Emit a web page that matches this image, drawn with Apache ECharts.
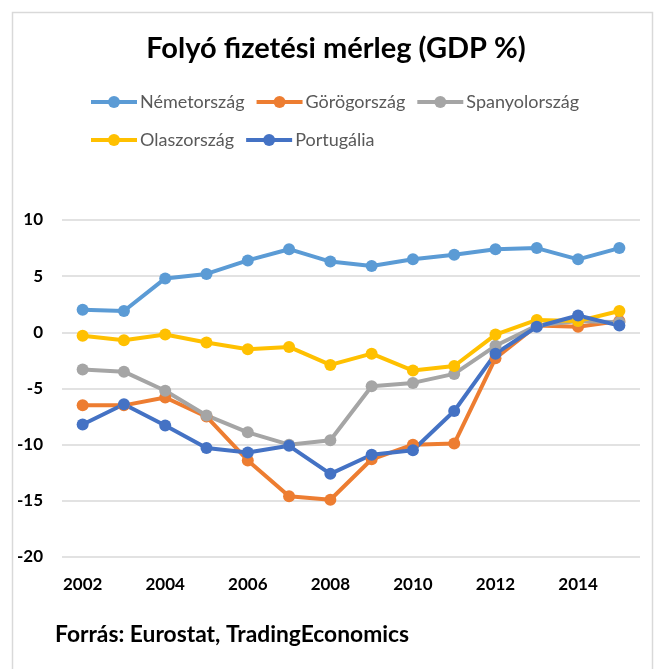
<!DOCTYPE html>
<html>
<head>
<meta charset="utf-8">
<script src="https://cdn.jsdelivr.net/npm/echarts@6/dist/echarts.min.js"></script>
<style>
  html, body { margin: 0; padding: 0; background: #fff; }
  #chart { width: 658px; height: 669px; }
</style>
</head>
<body>
<div id="chart"></div>
<script>
var years = ['2002', '2003', '2004', '2005', '2006', '2007', '2008', '2009', '2010', '2011', '2012', '2013', '2014', '2015'];

var nemetorszag = [2.0, 1.9, 4.8, 5.2, 6.4, 7.4, 6.3, 5.9, 6.5, 6.9, 7.4, 7.5, 6.5, 7.5];
var gorogorszag = [-6.5, -6.5, -5.8, -7.5, -11.4, -14.6, -14.9, -11.3, -10.0, -9.9, -2.3, 0.6, 0.5, 1.0];
var spanyolorszag = [-3.3, -3.5, -5.2, -7.4, -8.9, -10.0, -9.6, -4.8, -4.5, -3.7, -1.2, 0.6, 1.0, 0.9];
var olaszorszag = [-0.3, -0.7, -0.2, -0.9, -1.5, -1.3, -2.9, -1.9, -3.4, -3.0, -0.2, 1.1, 1.0, 1.9];
var portugalia = [-8.2, -6.4, -8.3, -10.3, -10.7, -10.1, -12.6, -10.9, -10.5, -7.0, -1.9, 0.5, 1.5, 0.6];

var seriesNames = ['Németország', 'Görögország', 'Spanyolország', 'Olaszország', 'Portugália'];
var seriesData = [nemetorszag, gorogorszag, spanyolorszag, olaszorszag, portugalia];
var colors = ['#5B9BD5', '#ED7D31', '#A5A5A5', '#FFC000', '#4472C4'];

var chart = echarts.init(document.getElementById('chart'));

// közös legend stílus
var legendBase = {
    orient: 'horizontal',
    left: 84,
    itemWidth: 46,
    itemHeight: 15,
    itemGap: 10,
    lineStyle: { width: 4 },
    textStyle: {
        fontFamily: 'Lato',
        fontSize: 18,
        color: '#595959',
        width: 112,
        padding: [0, 0, 0, -2]
    }
};

var option = {
    animation: false,
    color: colors,
    title: {
        text: 'Folyó fizetési mérleg (GDP %)',
        left: 331,
        textAlign: 'center',
        top: 29,
        textStyle: {
            fontFamily: 'Lato',
            fontWeight: 'bold',
            fontSize: 29,
            color: '#000'
        }
    },
    legend: [
        Object.assign({}, legendBase, { top: 88, data: seriesNames.slice(0, 3) }),
        Object.assign({}, legendBase, { top: 126, data: seriesNames.slice(3) })
    ],
    grid: {
        left: 62,
        right: 18,
        top: 220,
        bottom: 112,
        containLabel: false
    },
    xAxis: {
        type: 'category',
        data: years,
        boundaryGap: true,
        axisLine: { show: false },
        axisTick: { show: false },
        axisLabel: {
            interval: 1,
            margin: 19,
            fontFamily: 'Lato',
            fontWeight: 'bold',
            fontSize: 17,
            color: '#000'
        }
    },
    yAxis: {
        type: 'value',
        min: -20,
        max: 10,
        interval: 5,
        axisLine: { show: false },
        axisTick: { show: false },
        splitLine: { lineStyle: { color: '#d9d9d9', width: 1.5 } },
        axisLabel: {
            margin: 19,
            fontFamily: 'Lato',
            fontWeight: 'bold',
            fontSize: 17,
            color: '#000'
        }
    },
    graphic: [
        {
            type: 'rect',
            shape: { x: 12.5, y: 12.5, width: 640, height: 700 },
            style: { fill: 'none', stroke: '#d9d9d9', lineWidth: 1.5 },
            silent: true
        },
        {
            type: 'text',
            left: 55,
            top: 623,
            style: {
                text: 'Forrás: Eurostat, TradingEconomics',
                fontFamily: 'Lato',
                fontWeight: 'bold',
                fontSize: 22.8,
                fill: '#000'
            }
        }
    ],
    series: seriesNames.map(function (name, i) {
        return {
            name: name,
            type: 'line',
            data: seriesData[i],
            symbol: 'circle',
            symbolSize: 12,
            lineStyle: { width: 4, color: colors[i] },
            itemStyle: { color: colors[i] }
        };
    })
};

chart.setOption(option);
</script>
</body>
</html>
